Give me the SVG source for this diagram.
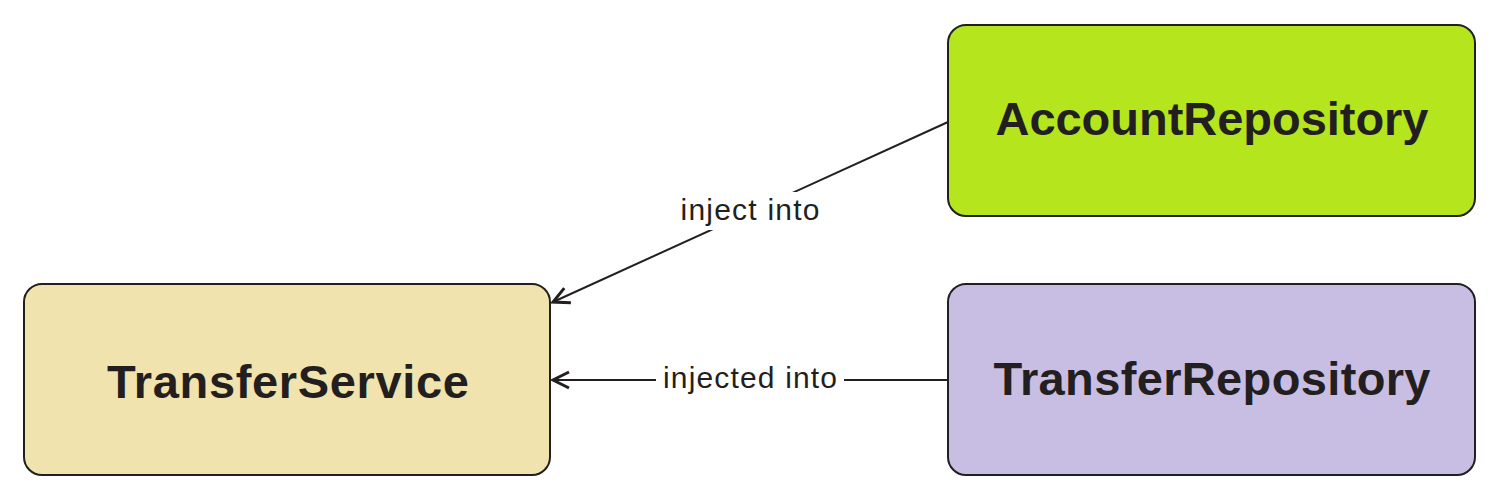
<svg xmlns="http://www.w3.org/2000/svg" width="1500" height="501" viewBox="0 0 1500 501">
<style>
.box{stroke:#231f20;stroke-width:2}
.title{font-family:"Liberation Sans",Arial,sans-serif;font-weight:bold;font-size:47px;fill:#231f20;text-anchor:middle}
.lbl{font-family:"Liberation Sans",Arial,sans-serif;font-size:30px;fill:#231f20;text-anchor:middle}
.edge{stroke:#231f20;stroke-width:2;fill:none}
</style>
<defs>
<marker id="arr" markerWidth="24" markerHeight="24" refX="20" refY="12" orient="auto" markerUnits="userSpaceOnUse">
<path d="M4,4 L20,12 L4,20" fill="none" stroke="#231f20" stroke-width="3"/>
</marker>
</defs>
<rect width="1500" height="501" fill="#fff"/>
<g id="TransferService">
<rect class="box" x="24" y="284" width="526" height="191" rx="18" fill="#f0e3ae"/>
<text class="title" x="288" y="398" textLength="362">TransferService</text>
</g>
<g id="AccountRepository">
<rect class="box" x="948" y="25" width="527" height="191" rx="18" fill="#b5e51d"/>
<text class="title" x="1212" y="135" textLength="433">AccountRepository</text>
</g>
<g id="TransferRepository">
<rect class="box" x="948" y="284" width="527" height="191" rx="18" fill="#c8bee4"/>
<text class="title" x="1212" y="395" textLength="437">TransferRepository</text>
</g>
<g id="connectors">
<line class="edge" x1="948" y1="122" x2="553" y2="302" marker-end="url(#arr)"/>
<rect x="676" y="192" width="150" height="38" fill="#fff"/>
<text class="lbl" x="750" y="220" textLength="139">inject into</text>
<line class="edge" x1="948" y1="380" x2="553" y2="380" marker-end="url(#arr)"/>
<rect x="656" y="362" width="188" height="34" fill="#fff"/>
<text class="lbl" x="750" y="388" textLength="174">injected into</text>
</g>
</svg>
